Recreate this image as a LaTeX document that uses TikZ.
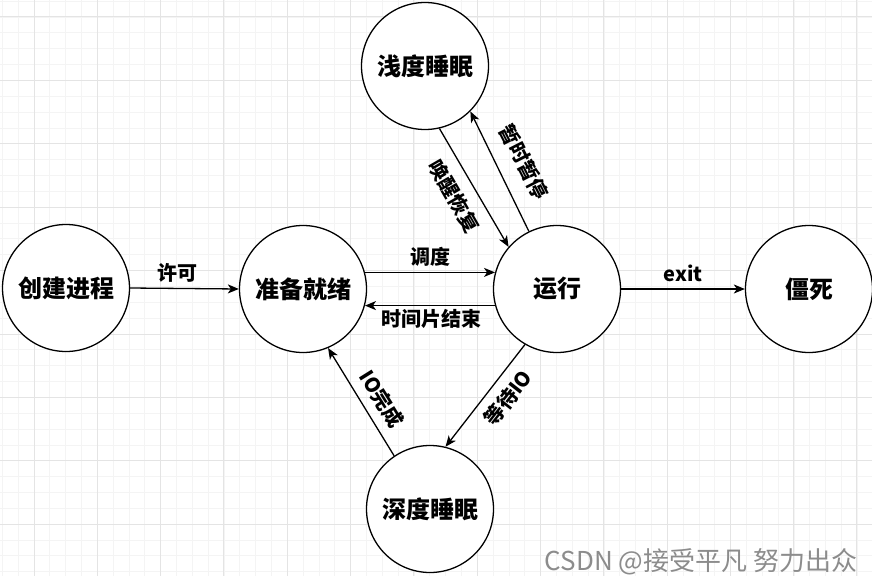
\documentclass[tikz,border=0pt]{standalone}
\usepackage{fontspec}
\setmainfont{Noto Sans CJK SC}
\usetikzlibrary{arrows.meta}
\definecolor{minorgrid}{RGB}{244,244,244}
\definecolor{majorgrid}{RGB}{228,228,228}
\definecolor{wmgray}{RGB}{140,140,140}
\tikzset{
  state/.style={draw, line width=1.3pt, circle, minimum size=127pt, inner sep=0pt, fill=white,
    font=\bfseries\fontsize{24}{24}\selectfont},
  conn/.style={line width=1.3pt, -{Stealth[length=11pt,width=9pt,inset=3pt]}},
  lbl/.style={font=\bfseries\fontsize{20}{20}\selectfont, inner sep=1pt},
  gminor/.style={draw=minorgrid, line width=0.8pt},
  gmajor/.style={draw=majorgrid, line width=1pt},
}
\begin{document}
\begin{tikzpicture}[x=1pt,y=-1pt]
\useasboundingbox (0,0) rectangle (872,586);
\fill[white] (0,0) rectangle (872,586);
% grid
\foreach \i in {0,...,55} \draw[gminor] (2.4+15.83*\i,0) -- (2.4+15.83*\i,576);
\foreach \j in {0,...,36} \draw[gminor] (0,1.1+15.85*\j) -- (872,1.1+15.85*\j);
\foreach \k in {0,...,13} \draw[gmajor] (34+63.3*\k,0) -- (34+63.3*\k,576);
\foreach \k in {0,...,8} \draw[gmajor] (0,17+63.4*\k) -- (872,17+63.4*\k);
% states
\node[state] (create) at (66,288) {创建进程};
\node[state] (ready) at (303,289) {准备就绪};
\node[state] (run) at (557,289) {运行};
\node[state] (dead) at (809,289) {僵死};
\node[state] (light) at (425,66) {浅度睡眠};
\node[state] (deep) at (430,509) {深度睡眠};
% connectors
\draw[conn] (create.east) -- (ready.west);
\draw[conn] (ready.15) -- (run.165);
\draw[conn] (run.195) -- (ready.-15);
\draw[conn] (run.east) -- (dead.west);
\draw[conn] (light.-77.7) -- (run.139.3);
\draw[conn] (run.116.6) -- (light.-45.6);
\draw[conn] (run.-120.9) -- (deep.76.8);
\draw[conn] (deep.124.4) -- (ready.-67.1);
% labels
\node[lbl] (lxk) at (177,273) {许可};
\node[lbl] (ldd) at (430,257) {调度};
\node[lbl] (lsj) at (431,319) {时间片结束};
\node[lbl] (lex) at (683,273) {exit};
\node[lbl, rotate=-60] (lhx) at (454,196) {唤醒恢复};
\node[lbl, rotate=-63] (lzt) at (524,162) {暂时暂停};
\node[lbl, rotate=52] (ldio) at (508,398) {等待IO};
\node[lbl, rotate=-58] (lio) at (382,399) {IO完成};
% watermark
\node[text=wmgray, font=\fontsize{26}{26}\selectfont, inner sep=0pt] (wm) at (701,562) {CSDN @接受平凡 努力出众};
\end{tikzpicture}
\end{document}
